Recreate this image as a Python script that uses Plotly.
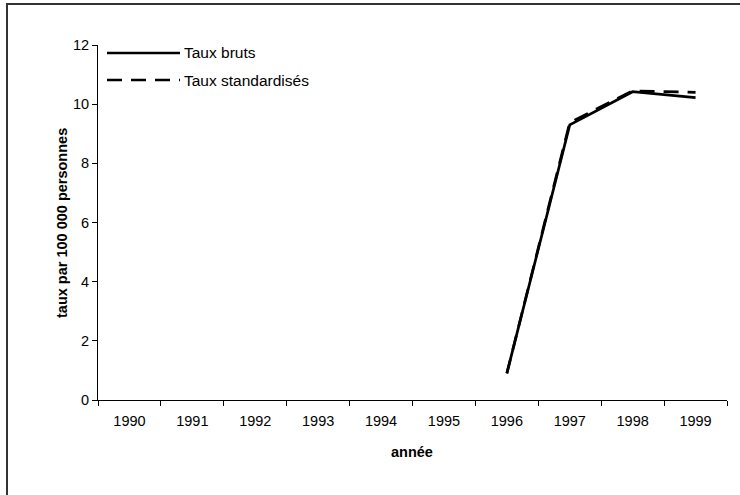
import plotly.graph_objects as go

years = ["1990", "1991", "1992", "1993", "1994", "1995", "1996", "1997", "1998", "1999"]
taux_bruts = [None, None, None, None, None, None, 0.9, 9.3, 10.42, 10.22]
taux_std = [None, None, None, None, None, None, 0.9, 9.38, 10.45, 10.4]
y_ticks = [0, 2, 4, 6, 8, 10, 12]
series_names = ["Taux bruts", "Taux standardisés"]
x_title = "année"
y_title = "taux par 100 000 personnes"

W, H = 740, 495
L, R, T, B = 98, 13, 45, 95
pw, ph = W - L - R, H - T - B

def px(x):
    return (x - L) / pw

def py(y):
    return (H - B - y) / ph

FONT = "Liberation Sans, Arial, sans-serif"

fig = go.Figure()
fig.add_trace(go.Scatter(x=years, y=taux_std, mode="lines", name=series_names[1],
                         line=dict(color="black", width=2.7, dash="15px,9px"),
                         connectgaps=False, showlegend=False))
fig.add_trace(go.Scatter(x=years, y=taux_bruts, mode="lines", name=series_names[0],
                         line=dict(color="black", width=2.7),
                         connectgaps=False, showlegend=False))

shapes = [
    dict(type="rect", xref="paper", yref="paper",
         x0=px(7), x1=px(760), y0=py(520), y1=py(4),
         line=dict(color="#333333", width=2), fillcolor="rgba(0,0,0,0)", layer="above"),
    dict(type="line", xref="paper", yref="paper", x0=px(107), x1=px(180), y0=py(53), y1=py(53),
         line=dict(color="black", width=2.5)),
    dict(type="line", xref="paper", yref="paper", x0=px(107), x1=px(180), y0=py(80), y1=py(80),
         line=dict(color="black", width=2.5, dash="15px,9px")),
]
annotations = [
    dict(xref="paper", yref="paper", x=px(182), y=py(53), text=series_names[0], showarrow=False,
         xanchor="left", yanchor="middle", font=dict(family=FONT, size=15.5, color="black")),
    dict(xref="paper", yref="paper", x=px(182), y=py(80), text=series_names[1], showarrow=False,
         xanchor="left", yanchor="middle", font=dict(family=FONT, size=15.5, color="black")),
    dict(xref="paper", yref="paper", x=px(412), y=py(452), text="<b>" + x_title + "</b>", showarrow=False,
         xanchor="center", yanchor="middle", font=dict(family=FONT, size=14.5, color="black")),
    dict(xref="paper", yref="paper", x=px(62), y=py(223), text="<b>" + y_title + "</b>", showarrow=False,
         textangle=-90, xanchor="center", yanchor="middle", font=dict(family=FONT, size=14.5, color="black")),
]

fig.update_layout(
    width=W, height=H,
    margin=dict(l=L, r=R, t=T, b=B),
    paper_bgcolor="white", plot_bgcolor="white",
    font=dict(family=FONT, size=14.5, color="black"),
    shapes=shapes, annotations=annotations,
    showlegend=False,
)
fig.update_xaxes(
    type="category", categoryorder="array", categoryarray=years,
    range=[-0.5, 9.5], tickson="boundaries", ticks="outside", ticklen=5, tickcolor="black",
    showline=True, linecolor="black", linewidth=1, showgrid=False, zeroline=False,
    tickfont=dict(family=FONT, size=14.5, color="black"), ticklabelstandoff=8,
)
fig.update_yaxes(
    range=[0, 12], tickvals=y_ticks, ticks="outside", ticklen=5, tickcolor="black",
    showline=True, linecolor="black", linewidth=1, showgrid=False, zeroline=False,
    tickfont=dict(family=FONT, size=14.5, color="black"),
)

fig.write_html("out.html", config={"displayModeBar": False},
               post_script="document.body.style.margin='0';")
